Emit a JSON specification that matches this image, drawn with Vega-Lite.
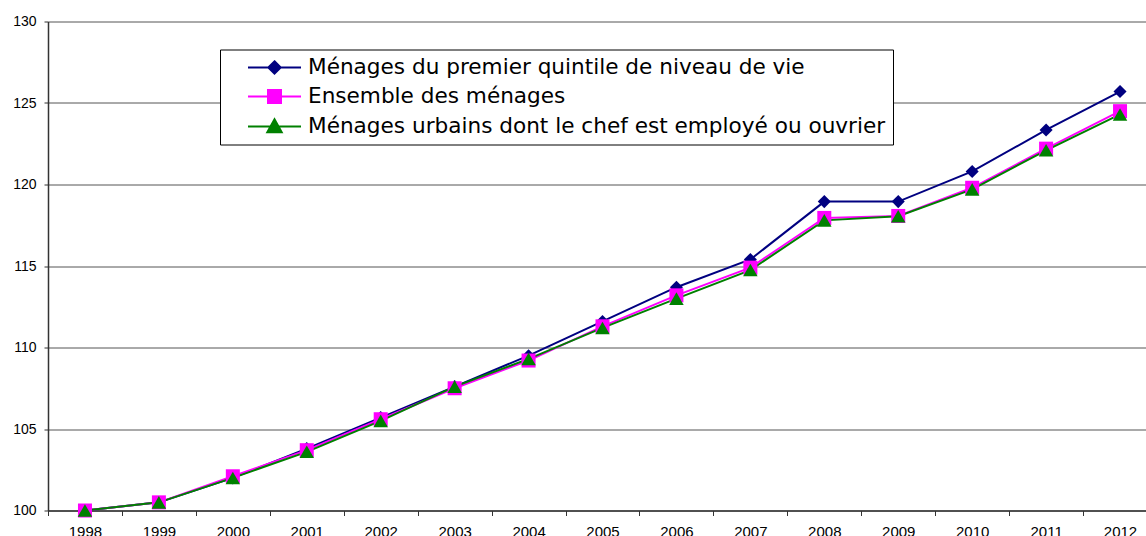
{
  "$schema": "https://vega.github.io/schema/vega-lite/v6.json",
  "width": 1109,
  "height": 489,
  "autosize": {"type": "none"},
  "padding": {"left": 48, "top": 21.5, "right": -11, "bottom": 25.5},
  "background": "white",
  "config": {
    "view": {"stroke": null},
    "font": "Liberation Sans"
  },
  "data": {
    "values": [
      {"year": "1998", "serie": "Ménages du premier quintile de niveau de vie", "valeur": 100.0},
      {"year": "1999", "serie": "Ménages du premier quintile de niveau de vie", "valeur": 100.5},
      {"year": "2000", "serie": "Ménages du premier quintile de niveau de vie", "valeur": 102.0},
      {"year": "2001", "serie": "Ménages du premier quintile de niveau de vie", "valeur": 103.8},
      {"year": "2002", "serie": "Ménages du premier quintile de niveau de vie", "valeur": 105.7},
      {"year": "2003", "serie": "Ménages du premier quintile de niveau de vie", "valeur": 107.6},
      {"year": "2004", "serie": "Ménages du premier quintile de niveau de vie", "valeur": 109.5},
      {"year": "2005", "serie": "Ménages du premier quintile de niveau de vie", "valeur": 111.6},
      {"year": "2006", "serie": "Ménages du premier quintile de niveau de vie", "valeur": 113.7},
      {"year": "2007", "serie": "Ménages du premier quintile de niveau de vie", "valeur": 115.4},
      {"year": "2008", "serie": "Ménages du premier quintile de niveau de vie", "valeur": 118.95},
      {"year": "2009", "serie": "Ménages du premier quintile de niveau de vie", "valeur": 118.95},
      {"year": "2010", "serie": "Ménages du premier quintile de niveau de vie", "valeur": 120.8},
      {"year": "2011", "serie": "Ménages du premier quintile de niveau de vie", "valeur": 123.35},
      {"year": "2012", "serie": "Ménages du premier quintile de niveau de vie", "valeur": 125.7},
      {"year": "1998", "serie": "Ensemble des ménages", "valeur": 100.0},
      {"year": "1999", "serie": "Ensemble des ménages", "valeur": 100.5},
      {"year": "2000", "serie": "Ensemble des ménages", "valeur": 102.1},
      {"year": "2001", "serie": "Ensemble des ménages", "valeur": 103.7},
      {"year": "2002", "serie": "Ensemble des ménages", "valeur": 105.6},
      {"year": "2003", "serie": "Ensemble des ménages", "valeur": 107.5},
      {"year": "2004", "serie": "Ensemble des ménages", "valeur": 109.2},
      {"year": "2005", "serie": "Ensemble des ménages", "valeur": 111.3},
      {"year": "2006", "serie": "Ensemble des ménages", "valeur": 113.2},
      {"year": "2007", "serie": "Ensemble des ménages", "valeur": 114.9},
      {"year": "2008", "serie": "Ensemble des ménages", "valeur": 117.95},
      {"year": "2009", "serie": "Ensemble des ménages", "valeur": 118.07},
      {"year": "2010", "serie": "Ensemble des ménages", "valeur": 119.8},
      {"year": "2011", "serie": "Ensemble des ménages", "valeur": 122.2},
      {"year": "2012", "serie": "Ensemble des ménages", "valeur": 124.5},
      {"year": "1998", "serie": "Ménages urbains dont le chef est employé ou ouvrier", "valeur": 100.0},
      {"year": "1999", "serie": "Ménages urbains dont le chef est employé ou ouvrier", "valeur": 100.5},
      {"year": "2000", "serie": "Ménages urbains dont le chef est employé ou ouvrier", "valeur": 102.0},
      {"year": "2001", "serie": "Ménages urbains dont le chef est employé ou ouvrier", "valeur": 103.6},
      {"year": "2002", "serie": "Ménages urbains dont le chef est employé ou ouvrier", "valeur": 105.5},
      {"year": "2003", "serie": "Ménages urbains dont le chef est employé ou ouvrier", "valeur": 107.6},
      {"year": "2004", "serie": "Ménages urbains dont le chef est employé ou ouvrier", "valeur": 109.3},
      {"year": "2005", "serie": "Ménages urbains dont le chef est employé ou ouvrier", "valeur": 111.2},
      {"year": "2006", "serie": "Ménages urbains dont le chef est employé ou ouvrier", "valeur": 113.0},
      {"year": "2007", "serie": "Ménages urbains dont le chef est employé ou ouvrier", "valeur": 114.75},
      {"year": "2008", "serie": "Ménages urbains dont le chef est employé ou ouvrier", "valeur": 117.8},
      {"year": "2009", "serie": "Ménages urbains dont le chef est employé ou ouvrier", "valeur": 118.05},
      {"year": "2010", "serie": "Ménages urbains dont le chef est employé ou ouvrier", "valeur": 119.7},
      {"year": "2011", "serie": "Ménages urbains dont le chef est employé ou ouvrier", "valeur": 122.1},
      {"year": "2012", "serie": "Ménages urbains dont le chef est employé ou ouvrier", "valeur": 124.3}
    ]
  },
  "encoding": {
    "x": {
      "field": "year",
      "type": "ordinal",
      "sort": null,
      "scale": {"type": "band", "paddingInner": 0, "paddingOuter": 0},
      "axis": {
        "title": null,
        "labelAngle": 0,
        "tickBand": "extent",
        "grid": false,
        "domainColor": "#333333",
        "domainWidth": 1.5,
        "tickColor": "#333333",
        "tickSize": 5,
        "labelPadding": 9,
        "labelFontSize": 15,
        "labelColor": "black",
        "labelFont": "Liberation Sans"
      }
    },
    "y": {
      "field": "valeur",
      "type": "quantitative",
      "scale": {"domain": [100, 130], "nice": false, "zero": false},
      "axis": {
        "title": null,
        "values": [100, 105, 110, 115, 120, 125, 130],
        "grid": true,
        "gridColor": "#555555",
        "gridWidth": 1,
        "domainColor": "#333333",
        "domainWidth": 1.5,
        "tickColor": "#333333",
        "tickSize": 4,
        "labelPadding": 8,
        "labelFontSize": 14,
        "labelColor": "black",
        "labelFont": "Liberation Sans"
      }
    },
    "color": {
      "field": "serie",
      "type": "nominal",
      "sort": null,
      "scale": {
        "domain": ["Ménages du premier quintile de niveau de vie", "Ensemble des ménages", "Ménages urbains dont le chef est employé ou ouvrier"],
        "range": ["#000080", "#FF00FF", "#008000"]
      },
      "legend": {
        "title": null,
        "orient": "none",
        "legendX": 172,
        "legendY": 28,
        "strokeColor": "#000000",
        "fillColor": "white",
        "padding": 7,
        "symbolSize": 400,
        "symbolStrokeWidth": 2,
        "symbolOpacity": 1,
        "symbolOffset": 36.5,
        "labelOffset": 22.5,
        "labelFontSize": 21.6,
        "labelFont": "DejaVu Sans",
        "labelColor": "black",
        "labelLimit": 800,
        "rowPadding": 7,
        "encode": {
          "symbols": {
            "update": {
              "shape": {"signal": "datum.value === 'Ensemble des ménages' ? 'M-2.65,0H2.65M-0.65,-0.65H0.65V0.65H-0.65Z' : (datum.value === 'Ménages du premier quintile de niveau de vie' ? 'M-2.65,0H2.65M0,-0.62L0.62,0L0,0.62L-0.62,0Z' : 'M-2.65,0H2.65M0,-0.72L0.72,0.58L-0.72,0.58Z')"},
              "size": {"value": 400},
              "fill": {"signal": "scale('color', datum.value)"},
              "stroke": {"signal": "scale('color', datum.value)"},
              "strokeWidth": {"value": 2}
            }
          }
        }
      }
    }
  },
  "layer": [
    {
      "mark": {"type": "line", "strokeWidth": 2},
      "encoding": {"detail": {"field": "serie"}}
    },
    {
      "transform": [{"filter": "datum.serie === 'Ménages du premier quintile de niveau de vie'"}],
      "mark": {"type": "point", "filled": true, "opacity": 1, "shape": "diamond", "size": 170}
    },
    {
      "transform": [{"filter": "datum.serie === 'Ensemble des ménages'"}],
      "mark": {"type": "point", "filled": true, "opacity": 1, "shape": "square", "size": 196}
    },
    {
      "transform": [{"filter": "datum.serie === 'Ménages urbains dont le chef est employé ou ouvrier'"}],
      "mark": {"type": "point", "filled": true, "opacity": 1, "shape": "triangle-up", "size": 210}
    }
  ]
}
